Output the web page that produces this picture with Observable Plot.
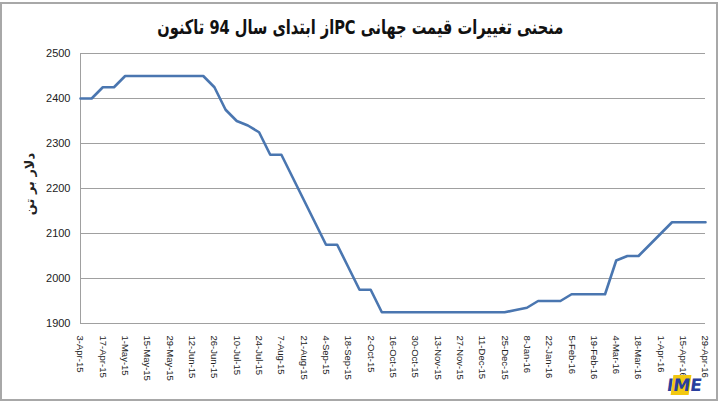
<!DOCTYPE html>
<html>
<head>
<meta charset="utf-8">
<script src="https://cdn.jsdelivr.net/npm/d3@7"></script>
<script src="https://cdn.jsdelivr.net/npm/@observablehq/plot@0.6"></script>
<style>
  html, body { margin: 0; padding: 0; background: #fff; }
  #wrap { position: relative; width: 720px; height: 404px; overflow: hidden; background: #fff; }
  #frame { position: absolute; left: 0; top: 2px; width: 714px; height: 395px; border: 2px solid #a8a8a8; pointer-events: none; }
  #title { position: absolute; left: 0; top: 15px; width: 720px; text-align: center; direction: rtl;
           font-family: "DejaVu Sans", sans-serif; font-weight: bold; font-size: 20px; color: #111;
           transform: scaleX(0.73); transform-origin: 361px 0; }
  #ylab { position: absolute; left: 29px; top: 184px; transform: translate(-50%, -50%) rotate(-90deg);
          direction: rtl; white-space: nowrap; font-family: "DejaVu Sans", sans-serif; font-weight: bold; font-size: 13px; color: #222; }
  #logo { position: absolute; left: 667px; top: 375px; font-family: "DejaVu Sans", sans-serif; font-weight: bold;
          font-size: 17px; letter-spacing: -1px; transform: skewX(-8deg); }
  #logo .b { color: #2a3f9e; }
  #logo .y { color: #2a3f9e; background: #f2c811; padding: 0 1px; }
  svg { position: absolute; left: 0; top: 0; }
</style>
</head>
<body>
<div id="wrap">
  <div id="frame"></div>
  <div id="title">منحنی تغییرات قیمت جهانی PCاز ابتدای سال 94 تاکنون</div>
  <div id="ylab">دلار بر تن</div>
  <div id="logo"><span class="b">I</span><span class="y">M</span><span class="b">E</span></div>
</div>
<script>
const dates = [
  "2015-04-03","2015-04-10","2015-04-17","2015-04-24",
  "2015-05-01","2015-05-08","2015-05-15","2015-05-22","2015-05-29",
  "2015-06-05","2015-06-12","2015-06-19","2015-06-26",
  "2015-07-03","2015-07-10","2015-07-17","2015-07-24","2015-07-31",
  "2015-08-07","2015-08-14","2015-08-21","2015-08-28",
  "2015-09-04","2015-09-11","2015-09-18","2015-09-25",
  "2015-10-02","2015-10-09","2015-10-16","2015-10-23","2015-10-30",
  "2015-11-06","2015-11-13","2015-11-20","2015-11-27",
  "2015-12-04","2015-12-11","2015-12-18","2015-12-25",
  "2016-01-01","2016-01-08","2016-01-15","2016-01-22","2016-01-29",
  "2016-02-05","2016-02-12","2016-02-19","2016-02-26",
  "2016-03-04","2016-03-11","2016-03-18","2016-03-25",
  "2016-04-01","2016-04-08","2016-04-15","2016-04-22","2016-04-29"
];
const prices = [
  2400,2400,2425,2425,
  2450,2450,2450,2450,2450,
  2450,2450,2450,2425,
  2375,2350,2340,2325,2275,
  2275,2225,2175,2125,
  2075,2075,2025,1975,
  1975,1925,1925,1925,1925,
  1925,1925,1925,1925,
  1925,1925,1925,1925,
  1930,1935,1950,1950,1950,
  1965,1965,1965,1965,
  2040,2050,2050,2075,
  2100,2125,2125,2125,2125
];
const xTickLabels = [
  "3-Apr-15","17-Apr-15","1-May-15","15-May-15","29-May-15","12-Jun-15","26-Jun-15",
  "10-Jul-15","24-Jul-15","7-Aug-15","21-Aug-15","4-Sep-15","18-Sep-15","2-Oct-15",
  "16-Oct-15","30-Oct-15","13-Nov-15","27-Nov-15","11-Dec-15","25-Dec-15","8-Jan-16",
  "22-Jan-16","5-Feb-16","19-Feb-16","4-Mar-16","18-Mar-16","1-Apr-16","15-Apr-16","29-Apr-16"
];
const yTicks = [1900, 2000, 2100, 2200, 2300, 2400, 2500];

const parseISO = d3.utcParse("%Y-%m-%d");
const parseTick = d3.utcParse("%d-%b-%y");
const fmtTick = d3.utcFormat("%-d-%b-%y");
const data = dates.map((d, i) => ({date: parseISO(d), price: prices[i]}));
const xTicks = xTickLabels.map(parseTick);

const chart = Plot.plot({
  width: 720,
  height: 404,
  marginLeft: 80,
  marginRight: 15,
  marginTop: 53,
  marginBottom: 81,
  style: {fontFamily: "'Liberation Sans', Arial, sans-serif", fontSize: "11px", color: "#222", background: "transparent"},
  x: {type: "utc", domain: [xTicks[0], xTicks[xTicks.length - 1]]},
  y: {domain: [1900, 2500]},
  marks: [
    Plot.gridY(yTicks, {stroke: "#a0a0a0", strokeOpacity: 1, strokeWidth: 1}),
    Plot.ruleX([xTicks[0]], {stroke: "#a0a0a0", strokeWidth: 1}),
    Plot.axisY(yTicks, {tickSize: 0, tickPadding: 10, label: null, fontSize: 11, tickFormat: d => String(d)}),
    Plot.axisX(xTicks, {tickSize: 0, tickPadding: 12, tickRotate: 90, textAnchor: "start",
      tickFormat: fmtTick, label: null, fontSize: 9.5}),
    Plot.line(data, {x: "date", y: "price", stroke: "#4a76b0", strokeWidth: 2.6, strokeLinejoin: "round"})
  ]
});
document.getElementById("wrap").insertBefore(chart, document.getElementById("frame"));
</script>
</body>
</html>
